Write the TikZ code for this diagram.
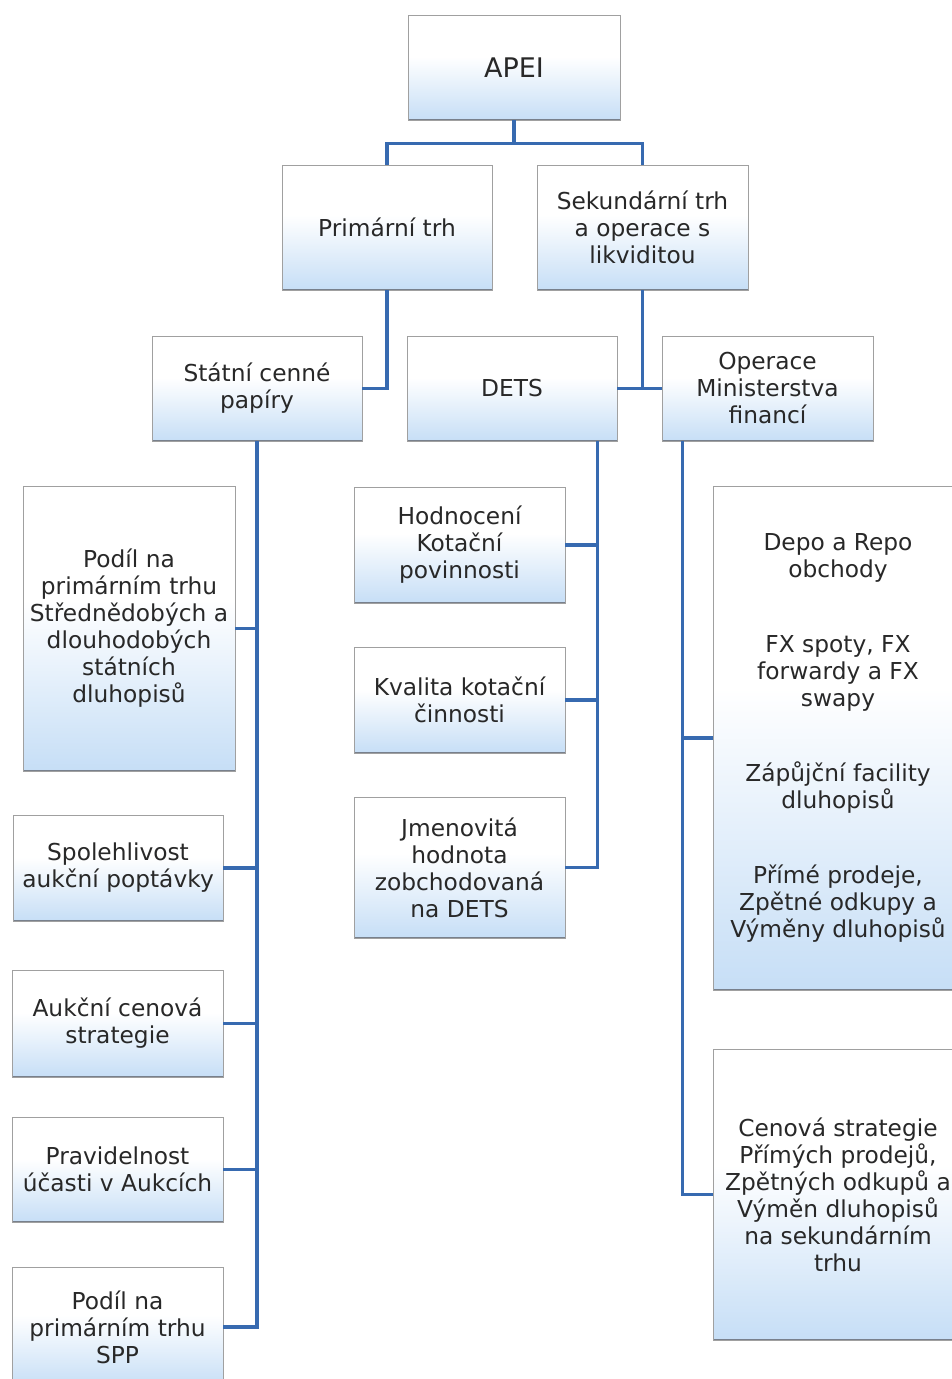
\documentclass[tikz,border=0pt]{standalone}
\usepackage{fontspec}
\setmainfont{DejaVu Sans}
\definecolor{boxblue}{RGB}{172,207,242}
\definecolor{linkblue}{RGB}{55,106,176}
\definecolor{boxline}{RGB}{160,160,160}
\definecolor{boxshadow}{RGB}{120,128,140}
\definecolor{txt}{RGB}{40,40,40}
\pgfdeclareverticalshading{boxshade}{100bp}{color(0bp)=(boxblue); color(20bp)=(boxblue!80!white); color(55bp)=(white); color(100bp)=(white)}
\begin{document}
\begin{tikzpicture}[x=1pt,y=-1pt,
  box/.style={draw=boxline, line width=0.8pt, shading=boxshade, rectangle, inner sep=0pt,
    align=center, text=txt, font=\fontsize{23.3}{27}\selectfont,
    path picture={\draw[boxshadow, line width=3pt] (path picture bounding box.south west) -- (path picture bounding box.south east);}},
  link/.style={draw=linkblue, line width=3.2pt}]
\useasboundingbox (0,0) rectangle (952,1379);
% level 0
\node[box, minimum width=212pt, minimum height=105pt, font=\fontsize{27}{32}\selectfont] (apei) at (514,67.5) {APEI};
% level 1
\node[box, minimum width=210pt, minimum height=125pt] (prim) at (387,227.5) {Primární trh};
\node[box, minimum width=211pt, minimum height=125pt] (sek) at (642.5,227.5) {Sekundární trh\\a operace s\\likviditou};
% level 2
\node[box, minimum width=210pt, minimum height=105pt] (stat) at (257,388.5) {Státní cenné\\papíry};
\node[box, minimum width=210pt, minimum height=105pt] (dets) at (512,388.5) {DETS};
\node[box, minimum width=211pt, minimum height=105pt] (oper) at (767.5,388.5) {Operace\\Ministerstva\\financí};
% left column
\node[box, minimum width=212pt, minimum height=285pt] (l1) at (129,628.5) {Podíl na\\primárním trhu\\Střednědobých a\\dlouhodobých\\státních\\dluhopisů};
\node[box, minimum width=210pt, minimum height=106pt] (l2) at (118,868) {Spolehlivost\\aukční poptávky};
\node[box, minimum width=211pt, minimum height=107pt] (l3) at (117.5,1023.5) {Aukční cenová\\strategie};
\node[box, minimum width=211pt, minimum height=105pt] (l4) at (117.5,1169.5) {Pravidelnost\\účasti v Aukcích};
\node[box, minimum width=211pt, minimum height=120pt] (l5) at (117.5,1327) {Podíl na\\primárním trhu\\SPP};
% middle column
\node[box, minimum width=211pt, minimum height=116pt] (m1) at (459.5,545) {Hodnocení\\Kotační\\povinnosti};
\node[box, minimum width=211pt, minimum height=106pt] (m2) at (459.5,700) {Kvalita kotační\\činnosti};
\node[box, minimum width=211pt, minimum height=141pt] (m3) at (459.5,867.5) {Jmenovitá\\hodnota\\zobchodovaná\\na DETS};
% right column
\node[box, minimum width=250pt, minimum height=504pt] (r1) at (838,738) {Depo a Repo\\obchody\\[48pt]FX spoty, FX\\forwardy a FX\\swapy\\[48pt]Zápůjční facility\\dluhopisů\\[48pt]Přímé prodeje,\\Zpětné odkupy a\\Výměny dluhopisů};
\node[box, minimum width=250pt, minimum height=291pt] (r2) at (838,1194.5) {Cenová strategie\\Přímých prodejů,\\Zpětných odkupů a\\Výměn dluhopisů\\na sekundárním\\trhu};
% connectors
\draw[link] (apei.south) -- ++(0,23) -| (prim.north);
\draw[link] (apei.south) -- ++(0,23) -| (sek.north);
\draw[link] (prim.south) |- (stat.east);
\draw[link] (sek.south) -- (sek.south |- dets.east);
\draw[link] (dets.east) -- (oper.west);
% Statni cenne papiry
\draw[link] (stat.south) |- (l5.east);
\foreach \n in {l1,l2,l3,l4} \draw[link] (\n.east) -- (\n.east -| stat.south);
% DETS
\coordinate (dv) at ([xshift=-20pt]dets.south east);
\draw[link] (dv) |- (m3.east);
\foreach \n in {m1,m2} \draw[link] (\n.east) -- (\n.east -| dv);
% Operace MF
\coordinate (ov) at ([xshift=21pt]oper.south west);
\draw[link] (ov) |- (r2.west);
\draw[link] (r1.west) -- (r1.west -| ov);
\end{tikzpicture}
\end{document}
